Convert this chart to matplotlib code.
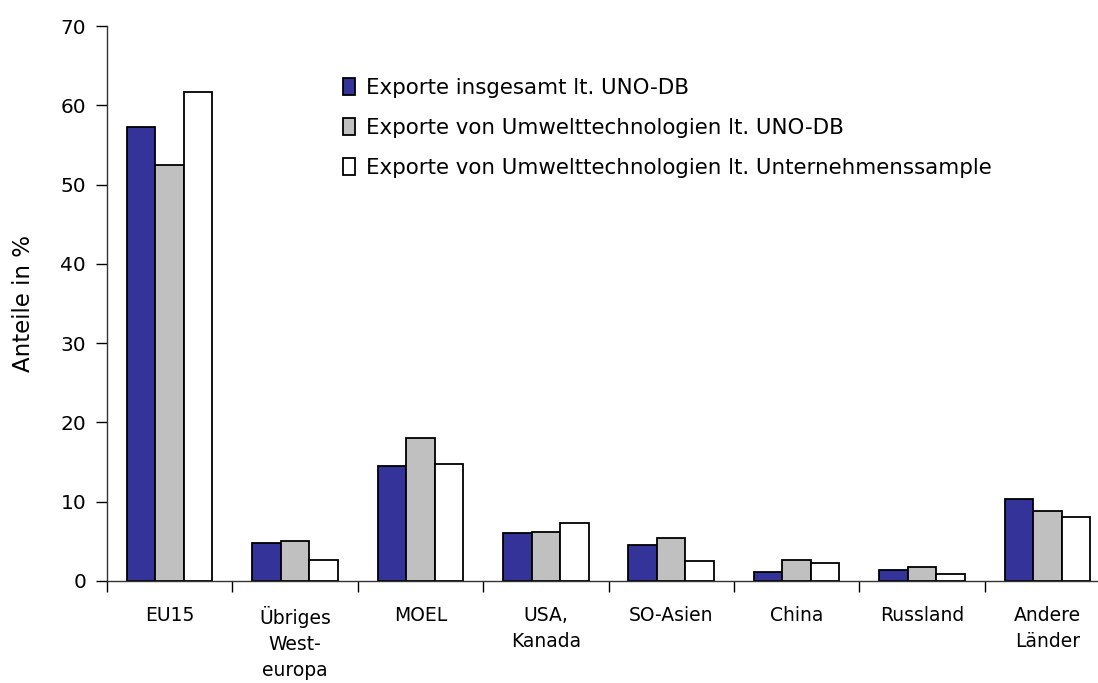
import matplotlib
matplotlib.use("Agg")
import matplotlib.pyplot as plt
import numpy as np

categories = ["EU15", "Übriges\nWest-\neuropa", "MOEL", "USA,\nKanada", "SO-Asien", "China", "Russland", "Andere\nLänder"]
series_names = ["Exporte insgesamt lt. UNO-DB",
                "Exporte von Umwelttechnologien lt. UNO-DB",
                "Exporte von Umwelttechnologien lt. Unternehmenssample"]
exports_total = [57.2, 4.75, 14.5, 6.05, 4.6, 1.13, 1.43, 10.3]
exports_env_uno = [52.5, 5.0, 18.0, 6.2, 5.4, 2.7, 1.72, 8.8]
exports_env_sample = [61.7, 2.6, 14.8, 7.35, 2.56, 2.27, 0.84, 8.07]
colors = ["#333399", "#C0C0C0", "#FFFFFF"]
yticks = [0, 10, 20, 30, 40, 50, 60, 70]

plt.rcParams['font.family'] = ['DejaVu Sans']

fig = plt.figure(figsize=(10.98, 6.83), dpi=100)
ax = fig.add_axes([107/1098, 102/683, 1003/1098, 555/683])

x = np.arange(len(categories))
w = 0.227
data = [exports_total, exports_env_uno, exports_env_sample]
for i, (vals, c, name) in enumerate(zip(data, colors, series_names)):
    ax.bar(x + (i - 1) * w, vals, width=w, color=c, edgecolor="black",
           linewidth=1.3, label=name, zorder=2)

ax.set_xlim(-0.5, len(categories) - 0.5)
ax.set_ylim(0, 70)
ax.set_yticks(yticks)
ax.set_yticklabels([str(t) for t in yticks], fontsize=14.5)
ax.tick_params(axis='y', direction='out', length=8, width=1, pad=7)

ax.set_xticks(x)
ax.set_xticklabels(categories, fontsize=13.5, linespacing=1.45)
ax.tick_params(axis='x', which='major', length=0, pad=18)
ax.set_xticks(np.arange(len(categories) + 1) - 0.5, minor=True)
ax.tick_params(axis='x', which='minor', direction='out', length=8, width=1)

for s in ["top", "right"]:
    ax.spines[s].set_visible(False)
ax.spines["left"].set_linewidth(1)
ax.spines["bottom"].set_linewidth(1)
ax.spines["bottom"].set_color("#333333")
ax.spines["left"].set_color("#333333")

ax.set_ylabel("Anteile in %", fontsize=16.5, labelpad=18)

leg = ax.legend(loc="upper left", bbox_to_anchor=(227/1003, (581-69)/555),
                frameon=False, fontsize=15.4, handlelength=0.6, handleheight=0.85,
                handletextpad=0.5, labelspacing=0.95, borderaxespad=0)

fig.savefig("out.png", dpi=100)
